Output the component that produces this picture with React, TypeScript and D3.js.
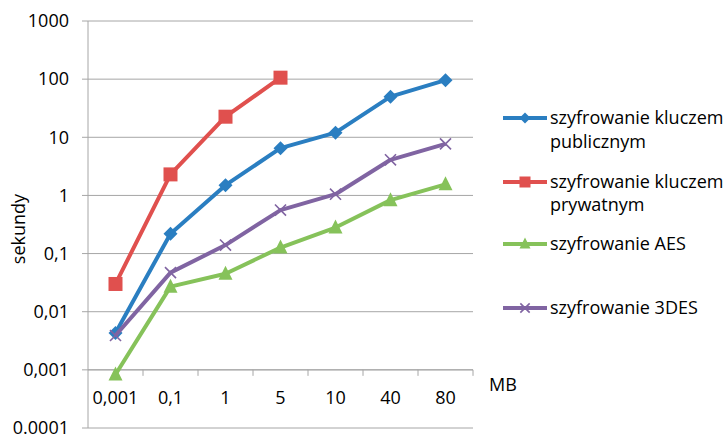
import React from "react";
import * as d3 from "d3";

const categories = ["0,001", "0,1", "1", "5", "10", "40", "80"];
const publicKey = [0.0043, 0.22, 1.5, 6.5, 12, 50, 96];
const privateKey = [0.03, 2.3, 22.6, 106];
const aes = [0.00083, 0.027, 0.045, 0.127, 0.28, 0.83, 1.55];
const des3 = [0.0039, 0.047, 0.14, 0.56, 1.05, 4.1, 7.7];
const yTicks = [1000, 100, 10, 1, 0.1, 0.01, 0.001, 0.0001];
const yTickLabels = ["1000", "100", "10", "1", "0,1", "0,01", "0,001", "0.0001"];

const seriesList = [
  { name: ["szyfrowanie kluczem", "publicznym"], values: publicKey, color: "#2A7EC1", marker: "diamond" },
  { name: ["szyfrowanie kluczem", "prywatnym"], values: privateKey, color: "#E0504E", marker: "square" },
  { name: ["szyfrowanie AES"], values: aes, color: "#86C25A", marker: "triangle" },
  { name: ["szyfrowanie 3DES"], values: des3, color: "#8064A2", marker: "x" },
];

const FONT = "'Open Sans', 'Noto Sans', sans-serif";
const FS = 18;

function Marker({ type, x, y, color, size }: { type: string; x: number; y: number; color: string; size: number }) {
  const h = size / 2;
  if (type === "diamond") {
    return <path d={`M${x},${y - h}L${x + h},${y}L${x},${y + h}L${x - h},${y}Z`} fill={color} />;
  }
  if (type === "square") {
    return <rect x={x - h} y={y - h} width={size} height={size} fill={color} />;
  }
  if (type === "triangle") {
    return <path d={`M${x},${y - h - 1}L${x + h},${y + h - 1}L${x - h},${y + h - 1}Z`} fill={color} />;
  }
  const k = h * 0.85;
  return (
    <path d={`M${x - k},${y - k}L${x + k},${y + k}M${x - k},${y + k}L${x + k},${y - k}`} stroke={color} strokeWidth={1.6} />
  );
}

export default function App() {
  const W = 728, H = 435;
  const left = 88, right = 473, top = 21, bottom = 428;
  const y = d3.scaleLog().domain([1e-4, 1e3]).range([bottom, top]);
  const x = d3.scaleBand<string>().domain(categories).range([left, right]);
  const cx = (i: number) => (x(categories[i]) as number) + x.bandwidth() / 2;
  const axisY = y(0.001);
  const line = d3
    .line<number>()
    .x((_, i) => cx(i))
    .y((d) => y(d));

  const legendY = [[118, 142], [182, 205], [244], [308]];

  return (
    <svg width={W} height={H} style={{ position: "absolute", left: 0, top: 0, background: "#fff" }} fontFamily={FONT}>
      {yTicks.map((t, i) => (
        <g key={i}>
          <line x1={left - 6} x2={right} y1={y(t)} y2={y(t)} stroke="#A6A6A6" strokeWidth={1} />
          <text x={69} y={y(t)} dy="0.35em" textAnchor="end" fontSize={FS} fill="#000">
            {yTickLabels[i]}
          </text>
        </g>
      ))}
      <line x1={left} x2={left} y1={top} y2={bottom} stroke="#A6A6A6" strokeWidth={1} />
      <line x1={left} x2={right} y1={axisY} y2={axisY} stroke="#A6A6A6" strokeWidth={1} />
      {categories.map((c, i) => (
        <line key={"t" + i} x1={(x(c) as number) + x.bandwidth()} x2={(x(c) as number) + x.bandwidth()} y1={axisY} y2={axisY + 6} stroke="#A6A6A6" />
      ))}
      {categories.map((c, i) => (
        <text key={"c" + i} x={cx(i)} y={398} dy="0.35em" textAnchor="middle" fontSize={FS}>
          {c}
        </text>
      ))}
      <text x={489} y={385} dy="0.35em" fontSize={FS}>MB</text>
      <text transform={`translate(19,229) rotate(-90)`} textAnchor="middle" dy="0.35em" fontSize={FS}>
        sekundy
      </text>
      {seriesList.map((s, si) => (
        <g key={si}>
          <path d={line(s.values) as string} fill="none" stroke={s.color} strokeWidth={4} strokeLinejoin="round" />
          {s.values.map((v, i) => (
            <Marker key={i} type={s.marker} x={cx(i)} y={y(v)} color={s.color} size={s.marker === "x" ? 13 : 14} />
          ))}
        </g>
      ))}
      {seriesList.map((s, si) => (
        <g key={"l" + si}>
          <line x1={503} x2={547} y1={legendY[si][0]} y2={legendY[si][0]} stroke={s.color} strokeWidth={4} />
          <Marker type={s.marker} x={525} y={legendY[si][0]} color={s.color} size={11} />
          {s.name.map((t, k) => (
            <text key={k} x={550} y={legendY[si][k]} dy="0.35em" fontSize={FS}>
              {t}
            </text>
          ))}
        </g>
      ))}
    </svg>
  );
}
